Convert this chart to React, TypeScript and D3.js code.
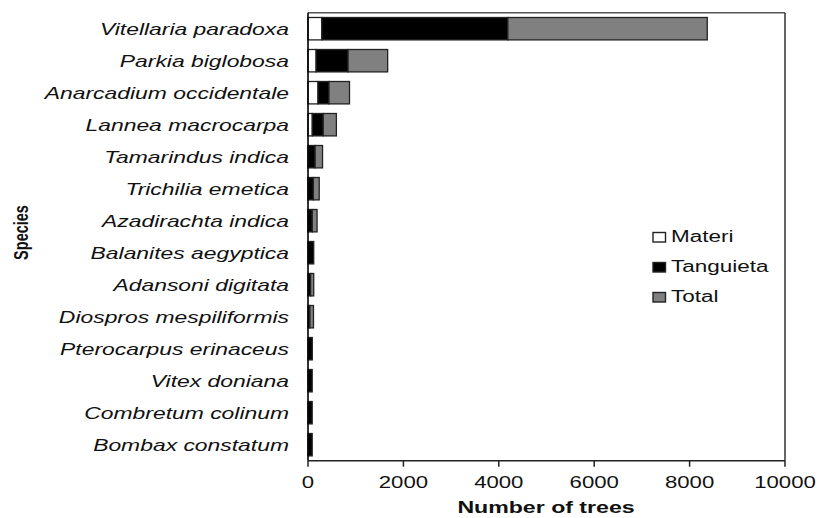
import React from "react";
import * as d3 from "d3";

const species = [
  "Vitellaria paradoxa",
  "Parkia biglobosa",
  "Anarcadium occidentale",
  "Lannea macrocarpa",
  "Tamarindus indica",
  "Trichilia emetica",
  "Azadirachta indica",
  "Balanites aegyptica",
  "Adansoni digitata",
  "Diospros mespiliformis",
  "Pterocarpus erinaceus",
  "Vitex doniana",
  "Combretum colinum",
  "Bombax constatum",
];
const materi = [290, 170, 210, 90, 8, 5, 5, 0, 0, 0, 0, 0, 0, 0];
const tanguieta = [3900, 670, 230, 230, 142, 108, 85, 120, 55, 40, 90, 88, 88, 88];
const total = [4180, 830, 430, 275, 155, 122, 100, 0, 65, 75, 0, 0, 0, 0];
const seriesNames = ["Materi", "Tanguieta", "Total"];
const seriesFill = ["#ffffff", "#000000", "#808080"];
const xTicks = [0, 2000, 4000, 6000, 8000, 10000];

const W = 818;
const H = 518;
const M = { left: 308, right: 785, top: 12.7, bottom: 460.7 };
const SX = 1.36;
const SXL = 1.405;
const FONT = "'Liberation Sans', Arial, sans-serif";

export default function App() {
  const x = d3.scaleLinear().domain([0, 10000]).range([M.left, M.right]);
  const y = d3
    .scaleBand<string>()
    .domain(species)
    .range([M.top, M.bottom])
    .paddingInner(0.3)
    .paddingOuter(0.15);

  const rows = species.map((s, i) => ({
    s,
    vals: [materi[i], tanguieta[i], total[i]],
  }));
  const stack = rows.map((r) => {
    let acc = 0;
    return r.vals.map((v, k) => {
      const seg = { x0: acc, x1: acc + v, k };
      acc += v;
      return seg;
    });
  });

  return (
    <svg
      width={W}
      height={H}
      style={{ position: "absolute", left: 0, top: 0, background: "#fff" }}
      fontFamily={FONT}
    >
      <rect x={0} y={0} width={W} height={H} fill="#fff" />
      {/* frame top/right */}
      <line x1={M.left} x2={M.right} y1={M.top} y2={M.top} stroke="#555" strokeWidth={1.5} />
      <line x1={M.right} x2={M.right} y1={M.top} y2={M.bottom} stroke="#333" strokeWidth={1.5} />
      {/* bars */}
      {rows.map((r, i) =>
        stack[i].map((seg) =>
          seg.x1 - seg.x0 > 0 ? (
            <rect
              key={r.s + seg.k}
              x={x(seg.x0)}
              y={y(r.s)}
              width={x(seg.x1) - x(seg.x0)}
              height={y.bandwidth()}
              fill={seriesFill[seg.k]}
              stroke="#222"
              strokeWidth={1.3}
            />
          ) : null
        )
      )}
      {/* axes */}
      <line x1={M.left} x2={M.left} y1={M.top} y2={M.bottom} stroke="#000" strokeWidth={1.6} />
      <line x1={M.left} x2={M.right} y1={M.bottom} y2={M.bottom} stroke="#222" strokeWidth={1.6} />
      {xTicks.map((t) => (
        <g key={t}>
          <line x1={x(t)} x2={x(t)} y1={M.bottom} y2={M.bottom + 6} stroke="#222" strokeWidth={1.5} />
          <text
            transform={`translate(${x(t)},488) scale(${SX},1)`}
            textAnchor="middle"
            fontSize={16.3}
            fill="#111"
          >
            {t}
          </text>
        </g>
      ))}
      {/* category labels */}
      {species.map((s) => (
        <text
          key={s}
          transform={`translate(289,${(y(s) as number) + y.bandwidth() / 2 + 6.5}) scale(${SXL},1)`}
          textAnchor="end"
          fontSize={16.3}
          fontStyle="italic"
          fill="#111"
        >
          {s}
        </text>
      ))}
      {/* axis titles */}
      <text
        transform={`translate(546,513) scale(${SX},1)`}
        textAnchor="middle"
        fontSize={17}
        fontWeight="bold"
        fill="#111"
      >
        Number of trees
      </text>
      <text
        transform={`translate(28,232.5) rotate(-90) scale(1,${SX})`}
        textAnchor="middle"
        fontSize={14.5}
        fontWeight="bold"
        fill="#111"
      >
        Species
      </text>
      {/* legend */}
      {seriesNames.map((n, k) => (
        <g key={n}>
          <rect
            x={653}
            y={232.5 + k * 30}
            width={12.5}
            height={9.5}
            fill={seriesFill[k]}
            stroke="#222"
            strokeWidth={1.4}
          />
          <text
            transform={`translate(671,${242 + k * 30}) scale(${SXL},1)`}
            fontSize={16}
            fill="#111"
          >
            {n}
          </text>
        </g>
      ))}
    </svg>
  );
}
